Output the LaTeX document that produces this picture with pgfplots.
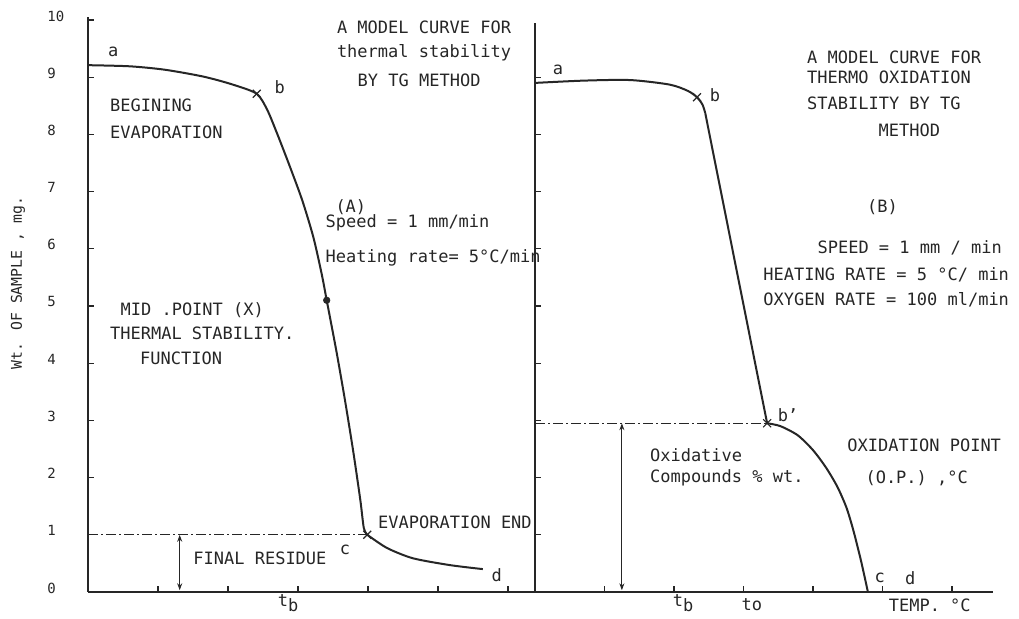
\documentclass[border=0pt]{standalone}
\usepackage{fontspec}
\setmainfont{DejaVu Sans Mono}
\usepackage{pgfplots}
\pgfplotsset{compat=1.18}
\usetikzlibrary{arrows.meta}

\definecolor{ink}{HTML}{262626}

\pgfplotsset{
  tgaxis/.style={
    axis x line=bottom, axis y line=left,
    axis line style={-, ink, line width=0.8pt},
    tick align=inside, major tick length=3pt,
    tick style={ink, line width=0.6pt},
    xmin=0, ymin=0, y=28.6pt,
    xtick={1,...,6}, xticklabels={},
    clip=false,
    /pgf/number format/assume math mode=true,
  },
  curve/.style={ink, line width=1pt, smooth, tension=0.45},
  dashdot/.style={ink, line width=0.6pt, dash pattern=on 5pt off 1.5pt on 1pt off 1.5pt},
  level/.style={ink, line width=0.6pt, {Stealth[length=3.5pt,width=2.5pt]}-{Stealth[length=3.5pt,width=2.5pt]}},
}
\tikzset{
  lbl/.style={font=\fontsize{8.5}{10}\selectfont, text=ink, inner sep=0pt},
}

\begin{document}
\begin{tikzpicture}
\path[use as bounding box] (0pt,0pt) rectangle (509.5pt,309.5pt);

% (A) evaporation curve
\begin{axis}[tgaxis, at={(44pt,13.5pt)}, anchor=south west,
  x=35pt, xmax=6.386, ymax=10.05,
  ytick={0,...,10},
  yticklabel style={anchor=west, inner sep=0pt, xshift=-20.5pt, yshift=2pt,
    font=\fontsize{7}{8}\selectfont, text=ink},
]
% a -> b -> mid point -> c
\addplot[curve] coordinates {
  (0,9.21) (0.6,9.19) (1.1,9.13) (1.65,9.01) (2.07,8.87) (2.41,8.71)
  (2.56,8.43) (2.70,8.02) (2.88,7.45) (3.06,6.85) (3.22,6.20) (3.34,5.55)
  (3.41,5.10) (3.55,4.20) (3.67,3.36) (3.79,2.45) (3.89,1.61)
  (3.94,1.12) (3.99,1.00)};
% c -> d
\addplot[curve] coordinates {
  (3.99,1.00) (4.27,0.77) (4.64,0.59) (5.17,0.47) (5.64,0.40)};
\addplot[ink, only marks, mark=x, mark size=2.8pt, line width=0.6pt] coordinates {(2.41,8.71) (3.99,1.00)};
\addplot[ink, only marks, mark=*, mark size=1.6pt] coordinates {(3.41,5.10)};
\addplot[dashdot] coordinates {(0,1) (3.99,1)};
\addplot[level] coordinates {(1.31,0.03) (1.31,1)};

\node[lbl] at (axis cs:0.36,9.44) {a};
\node[lbl] at (axis cs:2.74,8.83) {b};
\node[lbl] at (axis cs:3.67,0.73) {c};
\node[lbl] at (axis cs:5.84,0.30) {d};
\node[lbl, anchor=west] at (axis cs:0.31,8.50) {BEGINING};
\node[lbl, anchor=west] at (axis cs:0.31,8.04) {EVAPORATION};
\node[lbl, anchor=west] at (axis cs:0.46,4.93) {MID .POINT (X)};
\node[lbl, anchor=west] at (axis cs:0.31,4.53) {THERMAL STABILITY.};
\node[lbl, anchor=west] at (axis cs:0.74,4.09) {FUNCTION};
\node[lbl, anchor=west] at (axis cs:1.50,0.59) {FINAL RESIDUE};
\node[lbl, anchor=west] at (axis cs:4.14,1.21) {EVAPORATION END};
\node[lbl] at (axis cs:4.80,9.88) {A MODEL CURVE FOR};
\node[lbl] at (axis cs:4.80,9.42) {thermal stability};
\node[lbl] at (axis cs:4.73,8.95) {BY TG METHOD};
\node[lbl, anchor=west] at (axis cs:3.53,6.73) {(A)};
\node[lbl, anchor=west] at (axis cs:3.39,6.45) {Speed = 1 mm/min};
\node[lbl, anchor=west] at (axis cs:3.39,5.84) {Heating rate= 5°C/min};
\node[lbl] at (axis cs:2.86,-0.20) {t\raisebox{-0.28em}{b}};
\node[lbl, rotate=90, font=\fontsize{7.4}{9}\selectfont] at (axis cs:-1.0,5.40) {Wt. OF SAMPLE , mg.};
\end{axis}

% (B) thermo-oxidation curve
\begin{axis}[tgaxis, at={(267.5pt,13.5pt)}, anchor=south west,
  x=34.75pt, xmax=6.59, ymax=9.95,
  ytick={1,...,9}, yticklabels={},
]
% a -> b
\addplot[curve] coordinates {
  (0,8.90) (0.7,8.94) (1.37,8.95) (1.94,8.87) (2.20,8.76) (2.33,8.65)
  (2.41,8.52) (2.45,8.37)};
% b -> b'
\addplot[ink, line width=1pt] coordinates {(2.45,8.37) (3.34,2.95)};
% b' -> c
\addplot[curve] coordinates {
  (3.34,2.95) (3.53,2.90) (3.78,2.74) (4.00,2.48) (4.19,2.17) (4.35,1.84)
  (4.48,1.48) (4.58,1.08) (4.69,0.55) (4.79,0.00)};
\addplot[ink, only marks, mark=x, mark size=2.8pt, line width=0.6pt] coordinates {(2.33,8.65) (3.34,2.95)};
\addplot[dashdot] coordinates {(0,2.95) (3.34,2.95)};
\addplot[level] coordinates {(1.25,0.03) (1.25,2.95)};

\node[lbl] at (axis cs:0.33,9.13) {a};
\node[lbl] at (axis cs:2.59,8.69) {b};
\node[lbl] at (axis cs:3.64,3.09) {b'};
\node[lbl] at (axis cs:4.96,0.24) {c};
\node[lbl] at (axis cs:5.40,0.24) {d};
\node[lbl, anchor=west] at (axis cs:3.91,9.35) {A MODEL CURVE FOR};
\node[lbl, anchor=west] at (axis cs:3.91,8.99) {THERMO OXIDATION};
\node[lbl, anchor=west] at (axis cs:3.91,8.55) {STABILITY BY TG};
\node[lbl, anchor=west] at (axis cs:4.94,8.08) {METHOD};
\node[lbl] at (axis cs:5.00,6.73) {(B)};
\node[lbl, anchor=west] at (axis cs:4.06,6.01) {SPEED = 1 mm / min};
\node[lbl, anchor=west] at (axis cs:3.28,5.54) {HEATING RATE = 5 °C/ min};
\node[lbl, anchor=west] at (axis cs:3.28,5.10) {OXYGEN RATE  = 100 ml/min};
\node[lbl, anchor=west] at (axis cs:4.49,2.57) {OXIDATION POINT};
\node[lbl, anchor=west] at (axis cs:4.75,1.99) {(O.P.) ,°C};
\node[lbl, anchor=west] at (axis cs:1.65,2.40) {Oxidative};
\node[lbl, anchor=west] at (axis cs:1.65,1.99) {Compounds \% wt.};
\node[lbl] at (axis cs:2.13,-0.20) {t\raisebox{-0.28em}{b}};
\node[lbl] at (axis cs:3.12,-0.23) {to};
\node[lbl] at (axis cs:5.68,-0.23) {TEMP. °C};
\end{axis}
\end{tikzpicture}
\end{document}
